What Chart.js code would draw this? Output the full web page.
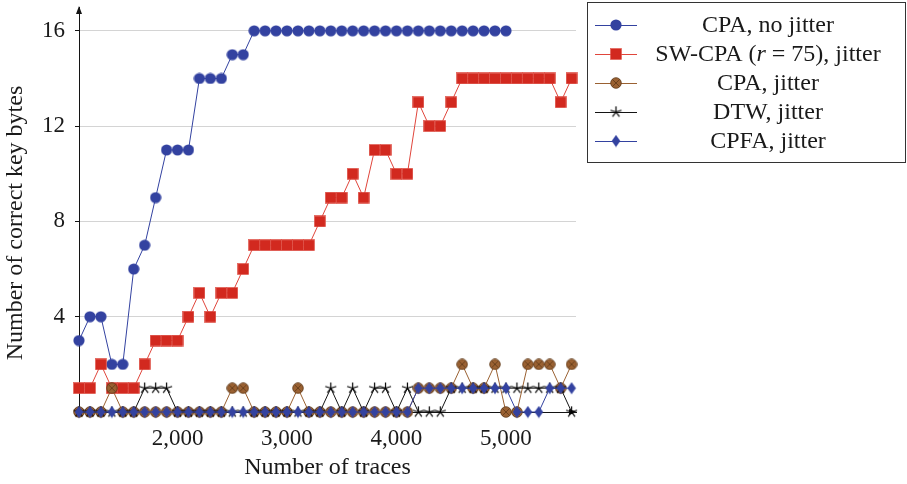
<!DOCTYPE html>
<html>
<head>
<meta charset="utf-8">
<script src="https://cdn.jsdelivr.net/npm/chart.js@4.4.0/dist/chart.umd.min.js"></script>
<style>
html, body { margin: 0; padding: 0; background: #fff; }
</style>
</head>
<body>
<canvas id="chart" width="907" height="484"></canvas>
<script>
// number of traces, one entry per measured point
const traces = [1100, 1200, 1300, 1400, 1500, 1600, 1700, 1800, 1900, 2000,
                2100, 2200, 2300, 2400, 2500, 2600, 2700, 2800, 2900, 3000,
                3100, 3200, 3300, 3400, 3500, 3600, 3700, 3800, 3900, 4000,
                4100, 4200, 4300, 4400, 4500, 4600, 4700, 4800, 4900, 5000,
                5100, 5200, 5300, 5400, 5500, 5600];

// CPA without jitter stops at 5000 traces
const cpaNoJitter = [3, 4, 4, 2, 2, 6, 7, 9, 11, 11, 11, 14, 14, 14, 15, 15,
                     16, 16, 16, 16, 16, 16, 16, 16, 16, 16, 16, 16, 16, 16, 16, 16,
                     16, 16, 16, 16, 16, 16, 16, 16];
const swCpa = [1, 1, 2, 1, 1, 1, 2, 3, 3, 3, 4, 5, 4, 5, 5, 6,
               7, 7, 7, 7, 7, 7, 8, 9, 9, 10, 9, 11, 11, 10, 10,
               13, 12, 12, 13, 14, 14, 14, 14, 14, 14, 14, 14, 14, 13, 14];
const cpaJitter = [0, 0, 0, 1, 0, 0, 0, 0, 0, 0, 0, 0, 0, 0, 1, 1,
                   0, 0, 0, 0, 1, 0, 0, 0, 0, 0, 0, 0, 0, 0, 0,
                   1, 1, 1, 1, 2, 1, 1, 2, 0, 0, 2, 2, 2, 1, 2];
const dtw = [0, 0, 0, 0, 0, 0, 1, 1, 1, 0, 0, 0, 0, 0, 0, 0,
             0, 0, 0, 0, 0, 0, 0, 1, 0, 1, 0, 1, 1, 0, 1,
             0, 0, 0, 1, 1, 1, 1, 1, 1, 1, 1, 1, 1, 1, 0];
const cpfa = [0, 0, 0, 0, 0, 0, 0, 0, 0, 0, 0, 0, 0, 0, 0, 0,
              0, 0, 0, 0, 0, 0, 0, 0, 0, 0, 0, 0, 0, 0, 0,
              1, 1, 1, 1, 1, 1, 1, 1, 1, 0, 0, 0, 1, 1, 1];

const xTicks = [2000, 3000, 4000, 5000];
const yTicks = [4, 8, 12, 16];

const BLUE = '#3342a0';
const RED = '#d2291f';
const BROWN = '#9a6132';
const BLACK = '#141414';
const TEXT = '#1a1a1a';
const FONT = "'Liberation Serif', 'DejaVu Serif', serif";

function marker(w, h, draw) {
    const c = document.createElement('canvas');
    c.width = w;
    c.height = h;
    draw(c.getContext('2d'), w / 2, h / 2);
    return c;
}

const mCircle = marker(12, 12, function(ctx, cx, cy) {
    ctx.fillStyle = BLUE;
    ctx.beginPath();
    ctx.arc(cx, cy, 5.6, 0, Math.PI * 2);
    ctx.fill();
});
const mSquare = marker(12, 12, function(ctx) {
    ctx.fillStyle = RED;
    ctx.fillRect(0.5, 0.5, 11, 11);
    ctx.strokeStyle = '#e25a50';
    ctx.lineWidth = 0.6;
    ctx.strokeRect(0.5, 0.5, 11, 11);
});
const mOtimes = marker(12, 12, function(ctx, cx, cy) {
    ctx.fillStyle = BROWN;
    ctx.beginPath();
    ctx.arc(cx, cy, 5.3, 0, Math.PI * 2);
    ctx.fill();
    ctx.strokeStyle = '#5e3818';
    ctx.lineWidth = 0.8;
    ctx.stroke();
    const d = 3.7;
    ctx.beginPath();
    ctx.moveTo(cx - d, cy - d); ctx.lineTo(cx + d, cy + d);
    ctx.moveTo(cx + d, cy - d); ctx.lineTo(cx - d, cy + d);
    ctx.stroke();
});
const mStar = marker(13, 13, function(ctx, cx, cy) {
    ctx.strokeStyle = '#000';
    ctx.lineWidth = 1.2;
    ctx.beginPath();
    for (let k = 0; k < 5; k++) {
        const a = -Math.PI / 2 + k * 2 * Math.PI / 5;
        ctx.moveTo(cx, cy);
        ctx.lineTo(cx + 5.8 * Math.cos(a), cy + 5.8 * Math.sin(a));
    }
    ctx.stroke();
});
const mDiamond = marker(10, 13, function(ctx, cx, cy) {
    ctx.fillStyle = BLUE;
    ctx.beginPath();
    ctx.moveTo(cx, 0.5);
    ctx.lineTo(9.3, cy);
    ctx.lineTo(cx, 12.5);
    ctx.lineTo(0.7, cy);
    ctx.closePath();
    ctx.fill();
});

function points(values) {
    return values.map(function(v, i) { return {x: traces[i], y: v}; });
}

function series(label, values, color, style, order) {
    return {
        label: label,
        data: points(values),
        borderColor: color,
        backgroundColor: color,
        borderWidth: 1,
        pointStyle: style,
        pointRadius: 6,
        pointHoverRadius: 6,
        tension: 0,
        clip: false,
        order: order
    };
}

const legendRows = [
    {color: BLUE, img: mCircle, parts: [['CPA, no jitter', false]]},
    {color: '#e0453b', img: mSquare, parts: [['SW-CPA (', false], ['r', true], [' = 75), jitter', false]]},
    {color: BROWN, img: mOtimes, parts: [['CPA, jitter', false]]},
    {color: BLACK, img: mStar, parts: [['DTW, jitter', false]]},
    {color: BLUE, img: mDiamond, parts: [['CPFA, jitter', false]]}
];

const decorations = {
    id: 'decorations',
    beforeDatasetsDraw(chart) {
        const ctx = chart.ctx;
        const a = chart.chartArea;
        ctx.save();
        ctx.fillStyle = BLACK;
        // arrow heads on both axes
        ctx.beginPath();
        ctx.moveTo(a.left, a.top - 1);
        ctx.lineTo(a.left - 3, a.top + 7);
        ctx.lineTo(a.left + 3, a.top + 7);
        ctx.closePath();
        ctx.fill();
        ctx.beginPath();
        ctx.moveTo(a.right + 1, a.bottom);
        ctx.lineTo(a.right - 7, a.bottom - 3);
        ctx.lineTo(a.right - 7, a.bottom + 3);
        ctx.closePath();
        ctx.fill();
        // y axis title
        ctx.fillStyle = TEXT;
        ctx.font = '24px ' + FONT;
        ctx.textAlign = 'center';
        ctx.textBaseline = 'middle';
        ctx.translate(16, 223);
        ctx.rotate(-Math.PI / 2);
        ctx.fillText('Number of correct key bytes', 0, 0);
        ctx.restore();
    },
    afterDraw(chart) {
        const ctx = chart.ctx;
        ctx.save();
        ctx.strokeStyle = '#333';
        ctx.lineWidth = 1;
        ctx.strokeRect(587.5, 2.5, 318, 160);
        ctx.textBaseline = 'middle';
        legendRows.forEach(function(row, i) {
            const y = 25 + i * 29;
            ctx.strokeStyle = row.color;
            ctx.lineWidth = 1;
            ctx.beginPath();
            ctx.moveTo(595, y + 0.5);
            ctx.lineTo(637, y + 0.5);
            ctx.stroke();
            ctx.drawImage(row.img, 616 - row.img.width / 2, y - row.img.height / 2);
            let total = 0;
            row.parts.forEach(function(p) {
                ctx.font = (p[1] ? 'italic ' : '') + '24px ' + FONT;
                total += ctx.measureText(p[0]).width;
            });
            let x = 768 - total / 2;
            ctx.fillStyle = TEXT;
            row.parts.forEach(function(p) {
                ctx.font = (p[1] ? 'italic ' : '') + '24px ' + FONT;
                ctx.fillText(p[0], x, y + 1);
                x += ctx.measureText(p[0]).width;
            });
        });
        ctx.restore();
    }
};

const canvas = document.getElementById('chart').getContext('2d');
const mainChart = new Chart(canvas, {
    type: 'line',
    data: {
        datasets: [
            series('CPA, no jitter', cpaNoJitter, BLUE, mCircle, 5),
            series('SW-CPA (r = 75), jitter', swCpa, '#e0453b', mSquare, 4),
            series('CPA, jitter', cpaJitter, BROWN, mOtimes, 3),
            series('DTW, jitter', dtw, BLACK, mStar, 2),
            series('CPFA, jitter', cpfa, BLUE, mDiamond, 1)
        ]
    },
    options: {
        responsive: false,
        animation: false,
        devicePixelRatio: 1,
        layout: {padding: {left: 0, right: 331, top: 5, bottom: 0}},
        plugins: {
            legend: {display: false},
            tooltip: {enabled: false}
        },
        scales: {
            x: {
                type: 'linear',
                min: 1100,
                max: 5640,
                afterBuildTicks: function(s) { s.ticks = xTicks.map(function(v) { return {value: v}; }); },
                afterFit: function(s) { s.height = 72; },
                grid: {display: false, drawTicks: false},
                border: {display: true, color: BLACK, width: 1},
                ticks: {
                    padding: 13,
                    color: TEXT,
                    font: {family: FONT, size: 23},
                    maxRotation: 0,
                    callback: function(v) { return v.toLocaleString('en-US'); }
                },
                title: {
                    display: true,
                    text: 'Number of traces',
                    color: TEXT,
                    font: {family: FONT, size: 24},
                    padding: {top: 0, bottom: 2}
                }
            },
            y: {
                min: 0,
                max: 17,
                afterBuildTicks: function(s) { s.ticks = yTicks.map(function(v) { return {value: v}; }); },
                afterFit: function(s) {
                    s.width = 79;
                    s.paddingTop = 0;
                    s.paddingBottom = 0;
                },
                grid: {color: '#d4d4d4', tickColor: BLACK, tickLength: 4},
                border: {display: true, color: BLACK, width: 1},
                ticks: {
                    padding: 10,
                    color: TEXT,
                    font: {family: FONT, size: 23}
                }
            }
        }
    },
    plugins: [decorations]
});
</script>
</body>
</html>
